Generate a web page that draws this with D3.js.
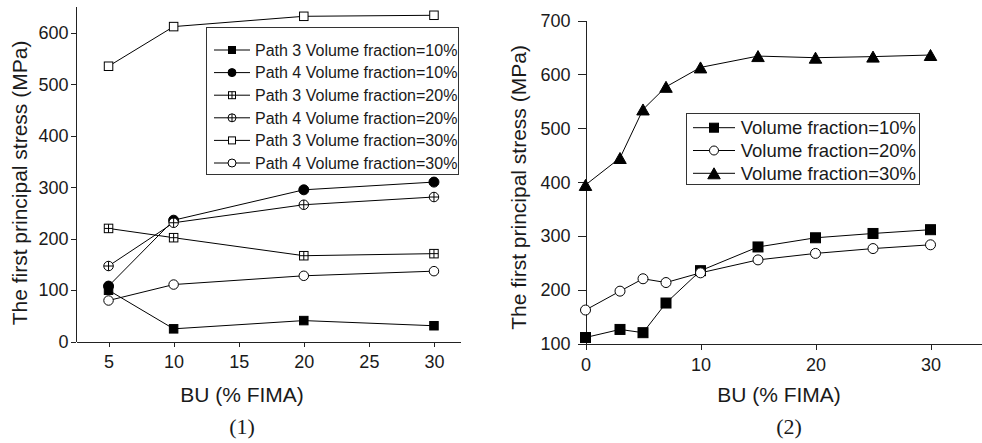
<!DOCTYPE html>
<meta charset="utf-8">
<style>
body { margin: 0; background: #fff; }
svg { display: block; }
.axis path, .axis line { fill: none; stroke: #222; stroke-width: 1; shape-rendering: crispEdges; }
.axis text { font-family: "Liberation Sans", Arial, sans-serif; font-size: 18px; fill: #1a1a1a; }
.title { font-family: "Liberation Sans", Arial, sans-serif; font-size: 21px; fill: #1a1a1a; }
.caption { font-family: "Liberation Serif", "Times New Roman", serif; font-size: 22px; fill: #1a1a1a; }
.legend text { font-family: "Liberation Sans", Arial, sans-serif; fill: #1a1a1a; }
</style>
<svg id="chart" width="982" height="443"></svg>
<script src="https://d3js.org/d3.v7.min.js"></script>
<script>

// panel (1): two paths, three volume fractions
var buLeft = [5, 10, 20, 30];
var p3vf10 = [100, 25, 41, 31];
var p4vf10 = [108, 236, 295, 310];
var p3vf20 = [220, 202, 167, 171];
var p4vf20 = [147, 231, 266, 281];
var p3vf30 = [535, 612, 632, 634];
var p4vf30 = [80, 111, 128, 137];
var leftNames = ["Path 3 Volume fraction=10%", "Path 4 Volume fraction=10%",
                 "Path 3 Volume fraction=20%", "Path 4 Volume fraction=20%",
                 "Path 3 Volume fraction=30%", "Path 4 Volume fraction=30%"];

// panel (2)
var buRight = [0, 3, 5, 7, 10, 15, 20, 25, 30];
var vf10 = [112, 127, 121, 176, 236, 280, 297, 305, 312];
var vf20 = [163, 198, 221, 214, 232, 256, 268, 277, 284];
var vf30 = [395, 445, 535, 577, 613, 634, 631, 633, 636];
var rightNames = ["Volume fraction=10%", "Volume fraction=20%", "Volume fraction=30%"];

var svg = d3.select("#chart");

function marker(g, type, x, y, s) {
  var filled = type.indexOf("filled") >= 0;
  var fill = filled ? "#000" : "#fff";
  if (type.indexOf("square") === 0) {
    g.append("rect").attr("x", x - s / 2).attr("y", y - s / 2)
      .attr("width", s).attr("height", s)
      .attr("fill", fill).attr("stroke", "#000").attr("stroke-width", 1);
  } else if (type.indexOf("circle") === 0) {
    g.append("circle").attr("cx", x).attr("cy", y).attr("r", s / 2)
      .attr("fill", fill).attr("stroke", "#000").attr("stroke-width", 1);
  } else if (type.indexOf("triangle") === 0) {
    var h = s * 0.88;
    g.append("path")
      .attr("d", "M" + x + "," + (y - h / 2) + "L" + (x + s / 2) + "," + (y + h / 2) +
                 "L" + (x - s / 2) + "," + (y + h / 2) + "Z")
      .attr("fill", fill).attr("stroke", "#000").attr("stroke-width", 1);
  }
  if (type.indexOf("plus") >= 0) {
    g.append("path")
      .attr("d", "M" + (x - s / 2) + "," + y + "H" + (x + s / 2) +
                 "M" + x + "," + (y - s / 2) + "V" + (y + s / 2))
      .attr("stroke", "#000").attr("stroke-width", 1);
  }
}

function series(g, xs, ys, x, y, type, s) {
  var line = d3.line().x(function(d, i) { return x(xs[i]); }).y(function(d) { return y(d); });
  g.append("path").datum(ys).attr("d", line)
    .attr("fill", "none").attr("stroke", "#000").attr("stroke-width", 1);
  ys.forEach(function(v, i) { marker(g, type, x(xs[i]), y(v), s); });
}

function axes(x, y, xMajor, xMinor, yMajor, yMinor, o) {
  var gx = svg.append("g").attr("class", "axis")
      .attr("transform", "translate(0," + y.range()[0] + ")");
  gx.call(d3.axisBottom(x).tickValues(xMinor).tickSize(o.minor).tickSizeOuter(0).tickFormat(""));
  gx.call(d3.axisBottom(x).tickValues(xMajor).tickSize(o.xMajor).tickSizeOuter(0).tickPadding(o.xPad));
  var gy = svg.append("g").attr("class", "axis")
      .attr("transform", "translate(" + x.range()[0] + ",0)");
  gy.call(d3.axisLeft(y).tickValues(yMinor).tickSize(o.minor).tickSizeOuter(0).tickFormat(""));
  gy.call(d3.axisLeft(y).tickValues(yMajor).tickSize(o.yMajor).tickSizeOuter(0).tickPadding(o.yPad));
}

// ---------- panel (1)
var x1 = d3.scaleLinear().domain([2.5, 32]).range([76, 460]);
var y1 = d3.scaleLinear().domain([0, 652]).range([341.7, 6]);

axes(x1, y1, [5, 10, 15, 20, 25, 30], [7.5, 12.5, 17.5, 22.5, 27.5],
     d3.range(0, 601, 100), d3.range(50, 651, 100),
     {minor: 3, xMajor: 5, xPad: 8.5, yMajor: 5, yPad: 2.5});

var g1 = svg.append("g");
var leftData = [p3vf10, p4vf10, p3vf20, p4vf20, p3vf30, p4vf30];
var leftTypes = ["square-filled", "circle-filled", "square-plus", "circle-plus", "square-open", "circle-open"];
var leftSize = [8.5, 10, 8.5, 9.5, 8.5, 9.5];
leftData.forEach(function(d, i) { series(g1, buLeft, d, x1, y1, leftTypes[i], leftSize[i]); });

var lg1 = svg.append("g").attr("class", "legend");
lg1.append("rect").attr("x", 206.5).attr("y", 27.5).attr("width", 252).attr("height", 147)
  .attr("fill", "#fff").attr("stroke", "#333").attr("stroke-width", 1);
leftNames.forEach(function(name, i) {
  var cy = 50 + i * 22.6;
  lg1.append("line").attr("x1", 214).attr("x2", 250).attr("y1", cy).attr("y2", cy)
    .attr("stroke", "#000").attr("stroke-width", 1);
  marker(lg1, leftTypes[i], 232, cy, leftTypes[i].indexOf("circle") === 0 ? 8 : 7);
  lg1.append("text").attr("x", 255).attr("y", cy).attr("dy", "0.36em")
    .style("font-size", "16px").text(name);
});

svg.append("text").attr("class", "title").attr("text-anchor", "middle")
  .attr("transform", "translate(26.7,183) rotate(-90)")
  .text("The first principal stress (MPa)");
svg.append("text").attr("class", "title").attr("text-anchor", "middle")
  .attr("x", 242).attr("y", 402).text("BU (% FIMA)");
svg.append("text").attr("class", "caption").attr("text-anchor", "middle")
  .attr("x", 242).attr("y", 434).text("(1)");

// ---------- panel (2)
var x2 = d3.scaleLinear().domain([0, 35]).range([585.5, 988]);
var y2 = d3.scaleLinear().domain([100, 700]).range([344, 20.5]);

axes(x2, y2, [0, 10, 20, 30], [5, 15, 25, 35],
     d3.range(100, 701, 100), d3.range(150, 651, 100),
     {minor: 4, xMajor: 6, xPad: 8.5, yMajor: 8, yPad: 7});

var g2 = svg.append("g");
var rightData = [vf10, vf20, vf30];
var rightTypes = ["square-filled", "circle-open", "triangle-filled"];
var rightSize = [10, 10, 12.5];
rightData.forEach(function(d, i) { series(g2, buRight, d, x2, y2, rightTypes[i], rightSize[i]); });

var lg2 = svg.append("g").attr("class", "legend");
lg2.append("rect").attr("x", 686.5).attr("y", 113.5).attr("width", 233).attr("height", 71)
  .attr("fill", "#fff").attr("stroke", "#333").attr("stroke-width", 1);
rightNames.forEach(function(name, i) {
  var cy = 127.7 + i * 22.8;
  lg2.append("line").attr("x1", 693).attr("x2", 735).attr("y1", cy).attr("y2", cy)
    .attr("stroke", "#000").attr("stroke-width", 1);
  marker(lg2, rightTypes[i], 714, cy, rightTypes[i] === "triangle-filled" ? 12.5 : 9);
  lg2.append("text").attr("x", 740.7).attr("y", cy).attr("dy", "0.36em")
    .style("font-size", "18.5px").text(name);
});

svg.append("text").attr("class", "title").attr("text-anchor", "middle")
  .attr("transform", "translate(525.7,187.5) rotate(-90)")
  .text("The first principal stress (MPa)");
svg.append("text").attr("class", "title").attr("text-anchor", "middle")
  .attr("x", 779).attr("y", 402).text("BU (% FIMA)");
svg.append("text").attr("class", "caption").attr("text-anchor", "middle")
  .attr("x", 789).attr("y", 434).text("(2)");

</script>
